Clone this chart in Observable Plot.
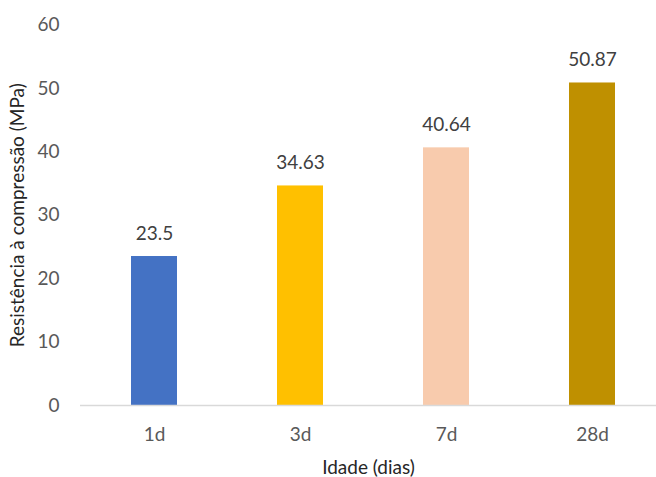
<!DOCTYPE html>
<html>
<head>
<meta charset="utf-8">
<script src="https://cdn.jsdelivr.net/npm/d3@7"></script>
<script src="https://cdn.jsdelivr.net/npm/@observablehq/plot@0.6"></script>
<style>
  html, body { margin: 0; padding: 0; background: #fff; overflow: hidden; }
  #chart svg { display: block; overflow: visible; }
</style>
</head>
<body>
<div id="chart"></div>
<script>
// Compressive strength by curing age
const ages = ["1d", "3d", "7d", "28d"];
const strength = [23.5, 34.63, 40.64, 50.87];
const barColors = ["#4472C4", "#FFC000", "#F8CBAD", "#BF9000"];
const yTicks = [0, 10, 20, 30, 40, 50, 60];

const data = ages.map((age, i) => ({age, value: strength[i]}));

const font = "Lato, 'Open Sans', sans-serif";
const size = 19;

const chart = Plot.plot({
  width: 656,
  height: 477,
  marginLeft: 80,
  marginRight: 0,
  marginTop: 24.6,
  marginBottom: 72,
  style: {fontFamily: font, fontSize: `${size}px`, background: "#fff", overflow: "visible"},
  x: {domain: ages, range: [80, 665], paddingInner: 0.685, paddingOuter: 0.3425},
  y: {domain: [0, 60]},
  color: {domain: ages, range: barColors},
  marks: [
    Plot.barY(data, {x: "age", y: "value", fill: "age"}),
    Plot.ruleY([0], {stroke: "#d9d9d9", strokeWidth: 1.5}),
    Plot.text(data, {
      x: "age", y: "value", text: d => String(d.value),
      lineAnchor: "bottom", dy: -17, fill: "#404040", fontSize: size
    }),
    Plot.axisY({
      ticks: yTicks, tickSize: 0, tickPadding: 21, fill: "#595959", fontSize: size,
      tickFormat: d => String(d), label: null
    }),
    Plot.axisY({
      ticks: [], label: "Resistência à compressão (MPa)", labelAnchor: "center",
      labelArrow: "none", labelOffset: 70, fill: "#262626", fontSize: size
    }),
    Plot.axisX({
      tickSize: 0, tickPadding: 21.5, fill: "#595959", fontSize: size, label: null
    }),
    Plot.axisX({
      ticks: [], label: "Idade (dias)", labelAnchor: "center",
      labelArrow: "none", labelOffset: 68, fill: "#262626", fontSize: size
    })
  ]
});

document.getElementById("chart").append(chart);
</script>
</body>
</html>
